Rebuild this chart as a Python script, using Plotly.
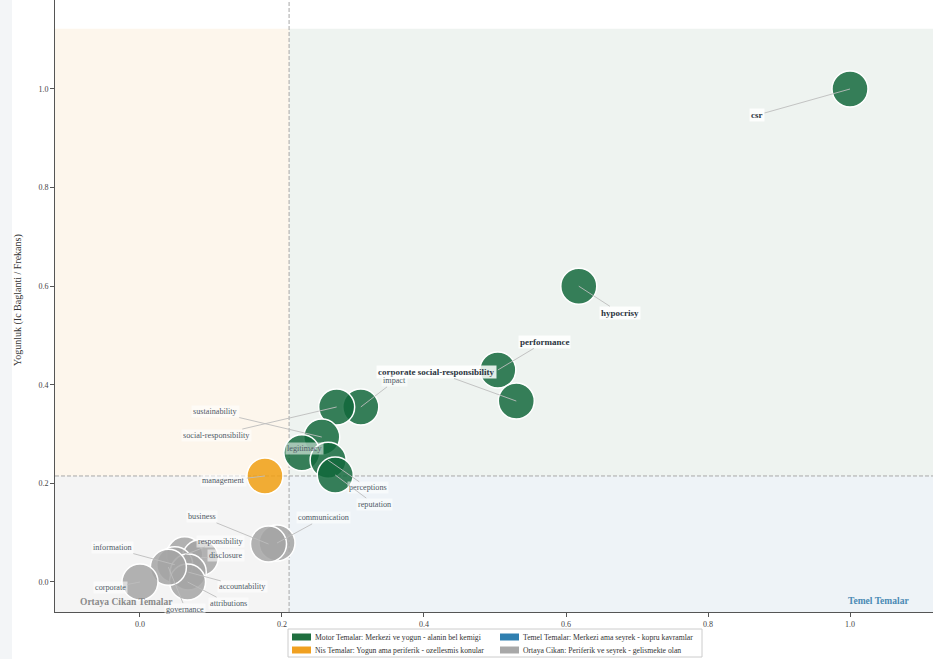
import plotly.graph_objects as go

# ---------------- data ----------------
terms = ["csr", "hypocrisy", "performance", "corporate social-responsibility", "impact",
         "social-responsibility", "sustainability", "legitimacy", "perceptions", "reputation",
         "management", "communication", "business", "responsibility", "disclosure",
         "information", "accountability", "attributions", "governance", "corporate"]
centrality = [1.0, 0.618, 0.504, 0.530, 0.311, 0.277, 0.256, 0.228, 0.265, 0.275,
              0.176, 0.193, 0.181, 0.063, 0.085, 0.049, 0.068, 0.067, 0.040, 0.0]
density = [1.0, 0.600, 0.430, 0.367, 0.355, 0.355, 0.294, 0.262, 0.247, 0.217,
           0.215, 0.079, 0.077, 0.055, 0.049, 0.035, 0.020, 0.0, 0.030, 0.0]
label_x = [0.869, 0.676, 0.570, 0.417, 0.359, 0.108, 0.106, 0.232, 0.321, 0.330,
           0.118, 0.258, 0.087, 0.113, 0.121, -0.039, 0.145, 0.124, 0.064, -0.042]
label_y = [0.947, 0.546, 0.487, 0.426, 0.408, 0.298, 0.345, 0.270, 0.191, 0.158,
           0.205, 0.130, 0.132, 0.083, 0.053, 0.069, -0.010, -0.043, -0.055, -0.012]
cluster = ["motor"] * 10 + ["nis"] + ["ortaya"] * 9

x_split = 0.21
y_split = 0.215

legend_names = ["Motor Temalar: Merkezi ve yogun - alanin bel kemigi",
                "Nis Temalar: Yogun ama periferik - ozellesmis konular",
                "Temel Temalar: Merkezi ama seyrek - kopru kavramlar",
                "Ortaya Cikan: Periferik ve seyrek - gelismekte olan"]
x_ticks = [0.0, 0.2, 0.4, 0.6, 0.8, 1.0]
y_ticks = [0.0, 0.2, 0.4, 0.6, 0.8, 1.0]

# ---------------- style ----------------
colors = {"motor": "rgba(17,104,58,0.84)", "nis": "rgba(240,160,20,0.86)",
          "temel": "rgba(47,127,176,0.85)", "ortaya": "rgba(165,165,165,0.85)"}
legend_colors = ["#1f6f3f", "#f0a020", "#2f7fb0", "#a8a8a8"]
FONT = "Liberation Serif"

W, H = 933, 659
ML, MR, MT, MB = 55, 0, 0, 47
XR = [-0.1197, 1.1169]
YR = [-0.0609, 1.1805]
y_shade_top = 1.122

def px2x(p):
    return (p - ML) / (W - ML - MR)

def py2y(p):
    return (H - MB - p) / (H - MB - MT)

fig = go.Figure()

for cat in ["ortaya", "nis", "motor"]:
    idx = [i for i, c in enumerate(cluster) if c == cat]
    fig.add_trace(go.Scatter(
        x=[centrality[i] for i in idx], y=[density[i] for i in idx],
        mode="markers", showlegend=False, hoverinfo="text",
        text=[terms[i] for i in idx],
        marker=dict(size=36, color=colors[cat], line=dict(color="white", width=1.5))))

DASH = dict(color="#a8a8a8", width=1, dash="4px,2px")
shapes = [
    dict(type="rect", xref="paper", yref="paper", x0=px2x(0), x1=px2x(12), y0=py2y(H), y1=py2y(0),
         fillcolor="#f3f5f7", line_width=0, layer="below"),
    dict(type="rect", xref="x", yref="y", x0=XR[0], x1=x_split, y0=y_split, y1=y_shade_top,
         fillcolor="#fdf6ec", line_width=0, layer="below"),
    dict(type="rect", xref="x", yref="y", x0=x_split, x1=XR[1], y0=y_split, y1=y_shade_top,
         fillcolor="#eef3f0", line_width=0, layer="below"),
    dict(type="rect", xref="x", yref="y", x0=XR[0], x1=x_split, y0=YR[0], y1=y_split,
         fillcolor="#f4f4f4", line_width=0, layer="below"),
    dict(type="rect", xref="x", yref="y", x0=x_split, x1=XR[1], y0=YR[0], y1=y_split,
         fillcolor="#eef3f7", line_width=0, layer="below"),
    dict(type="line", xref="x", yref="y", x0=x_split, x1=x_split, y0=YR[0], y1=YR[1],
         line=DASH, layer="below"),
    dict(type="line", xref="x", yref="y", x0=XR[0], x1=XR[1], y0=y_split, y1=y_split,
         line=DASH, layer="below"),
]

annotations = []
for i, t in enumerate(terms):
    big = i < 4
    annotations.append(dict(
        x=centrality[i], y=density[i], xref="x", yref="y",
        ax=label_x[i], ay=label_y[i], axref="x", ayref="y",
        text=f"<b>{t}</b>" if big else t,
        showarrow=True, arrowhead=0, arrowwidth=1, arrowcolor="rgba(190,190,190,0.9)",
        standoff=0, startstandoff=0,
        font=dict(family=FONT, size=9 if big else 8.2, color="#2b3440" if big else "#505a66"),
        bgcolor="rgba(255,255,255,0.85)" if big else "rgba(255,255,255,0.55)",
        borderpad=1))

annotations.append(dict(x=-0.019, y=-0.04, xref="x", yref="y", showarrow=False,
                        text="<b>Ortaya Cikan Temalar</b>",
                        font=dict(family=FONT, size=9.5, color="#8a8a8a")))
annotations.append(dict(x=1.04, y=-0.039, xref="x", yref="y", showarrow=False,
                        text="<b>Temel Temalar</b>",
                        font=dict(family=FONT, size=9.5, color="#4a8ab4")))
annotations.append(dict(x=px2x(18), y=py2y(300), xref="paper", yref="paper", showarrow=False,
                        xanchor="center", yanchor="middle",
                        text="Yogunluk (Ic Baglanti / Frekans)", textangle=-90,
                        font=dict(family=FONT, size=10, color="#333333")))

# manual legend
shapes.append(dict(type="rect", xref="paper", yref="paper",
                   x0=px2x(288), x1=px2x(702), y0=py2y(657), y1=py2y(629),
                   fillcolor="white", line=dict(color="#cccccc", width=1)))
leg_pos = [(292, 637), (292, 650), (500, 637), (500, 650)]
for name, col, (lx, ly) in zip(legend_names, legend_colors, leg_pos):
    shapes.append(dict(type="rect", xref="paper", yref="paper",
                       x0=px2x(lx), x1=px2x(lx + 19), y0=py2y(ly + 3.5), y1=py2y(ly - 3.5),
                       fillcolor=col, line_width=0))
    annotations.append(dict(x=px2x(lx + 21), y=py2y(ly), xref="paper", yref="paper",
                            xanchor="left", yanchor="middle", showarrow=False, text=name,
                            font=dict(family=FONT, size=7.7, color="#333333")))

fig.update_layout(
    width=W, height=H,
    margin=dict(l=ML, r=MR, t=MT, b=MB),
    paper_bgcolor="white", plot_bgcolor="white",
    font=dict(family=FONT, color="#444444"),
    shapes=shapes, annotations=annotations,
    xaxis=dict(range=XR, tickvals=x_ticks, ticktext=[f"{v:.1f}" for v in x_ticks],
               showgrid=False, zeroline=False, showline=True, linecolor="#555555",
               linewidth=1, ticks="outside", ticklen=4, tickcolor="#555555",
               tickfont=dict(family=FONT, size=8, color="#444444")),
    yaxis=dict(range=YR, tickvals=y_ticks, ticktext=[f"{v:.1f}" for v in y_ticks],
               showgrid=False, zeroline=False, showline=True, linecolor="#555555",
               linewidth=1, ticks="outside", ticklen=4, tickcolor="#555555",
               tickfont=dict(family=FONT, size=8, color="#444444")),
    showlegend=False,
)

fig.write_html("out.html", config={"displayModeBar": False},
               post_script="document.body.style.margin='0px';"
                           "document.body.style.overflow='hidden';")
